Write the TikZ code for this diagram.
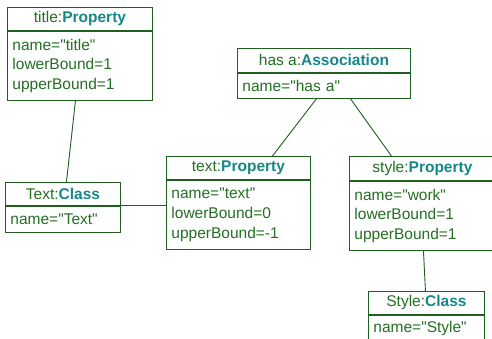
\documentclass[tikz,border=0pt]{standalone}
\usepackage{fontspec}
\setmainfont{Liberation Sans}[Ligatures=TeXOff]
\definecolor{umlgreen}{HTML}{237023}
\definecolor{umlline}{HTML}{1F5F1F}
\definecolor{umlteal}{HTML}{168787}
\tikzset{
  hdr/.style={draw=umlline, line width=0.9pt, anchor=north west, minimum width=#1, minimum height=23pt, inner sep=0pt, text=umlgreen, font=\fontsize{15.5}{19.7}\selectfont},
  bdy/.style={draw=umlline, line width=0.9pt, anchor=north west, text width=#1-10pt, inner xsep=5pt, inner ysep=0pt, align=left, text=umlgreen, font=\fontsize{15.5}{19.7}\selectfont},
  conn/.style={draw=umlline, line width=0.9pt}
}
\newcommand{\bt}[1]{\textcolor{umlteal}{\textbf{#1}}}
\begin{document}
\begin{tikzpicture}[x=1pt,y=1pt]
\clip (0,0) rectangle (492,-338);
\fill[white] (0,0) rectangle (492,-338);
% title:Property
\node[hdr=145pt] (th) at (7,-7) {title:\bt{Property}};
\node[bdy=145pt, minimum height=69pt] (tb) at (th.south west) {name="title"\\lowerBound=1\\upperBound=1};
% Text:Class
\node[hdr=115pt] (ch) at (5,-182) {Text:\bt{Class}};
\node[bdy=115pt, minimum height=26pt] (cb) at (ch.south west) {name="Text"};
% text:Property
\node[hdr=144pt] (ph) at (166,-156) {text:\bt{Property}};
\node[bdy=144pt, minimum height=69pt] (pb) at (ph.south west) {name="text"\\lowerBound=0\\upperBound=-1};
% has a:Association
\node[hdr=173pt, minimum height=24pt] (ah) at (237,-48) {has a:\bt{Association}};
\node[bdy=173pt, minimum height=25pt] (ab) at (ah.south west) {name="has a"};
% style:Property
\node[hdr=146pt, minimum height=24pt] (sh) at (349,-156) {style:\bt{Property}};
\node[bdy=146pt, minimum height=69pt] (sb) at (sh.south west) {name="work"\\lowerBound=1\\upperBound=1};
% Style:Class
\node[hdr=116pt] (yh) at (368,-291) {Style:\bt{Class}};
\node[bdy=116pt, minimum height=27pt] (yb) at (yh.south west) {name="Style"};
% connectors
\draw[conn] ([xshift=-4.5pt]tb.south) -- ([xshift=3.5pt]ch.north);
\draw[conn] (cb.north east) -- (pb.west |- cb.north east);
\draw[conn] ([xshift=-7.5pt]ab.south) -- ([xshift=34pt]ph.north);
\draw[conn] ([xshift=26.5pt]ab.south) -- ([xshift=-31pt]sh.north);
\draw[conn] ([xshift=1pt]sb.south) -- ([xshift=-1pt]yh.north);
\end{tikzpicture}
\end{document}
